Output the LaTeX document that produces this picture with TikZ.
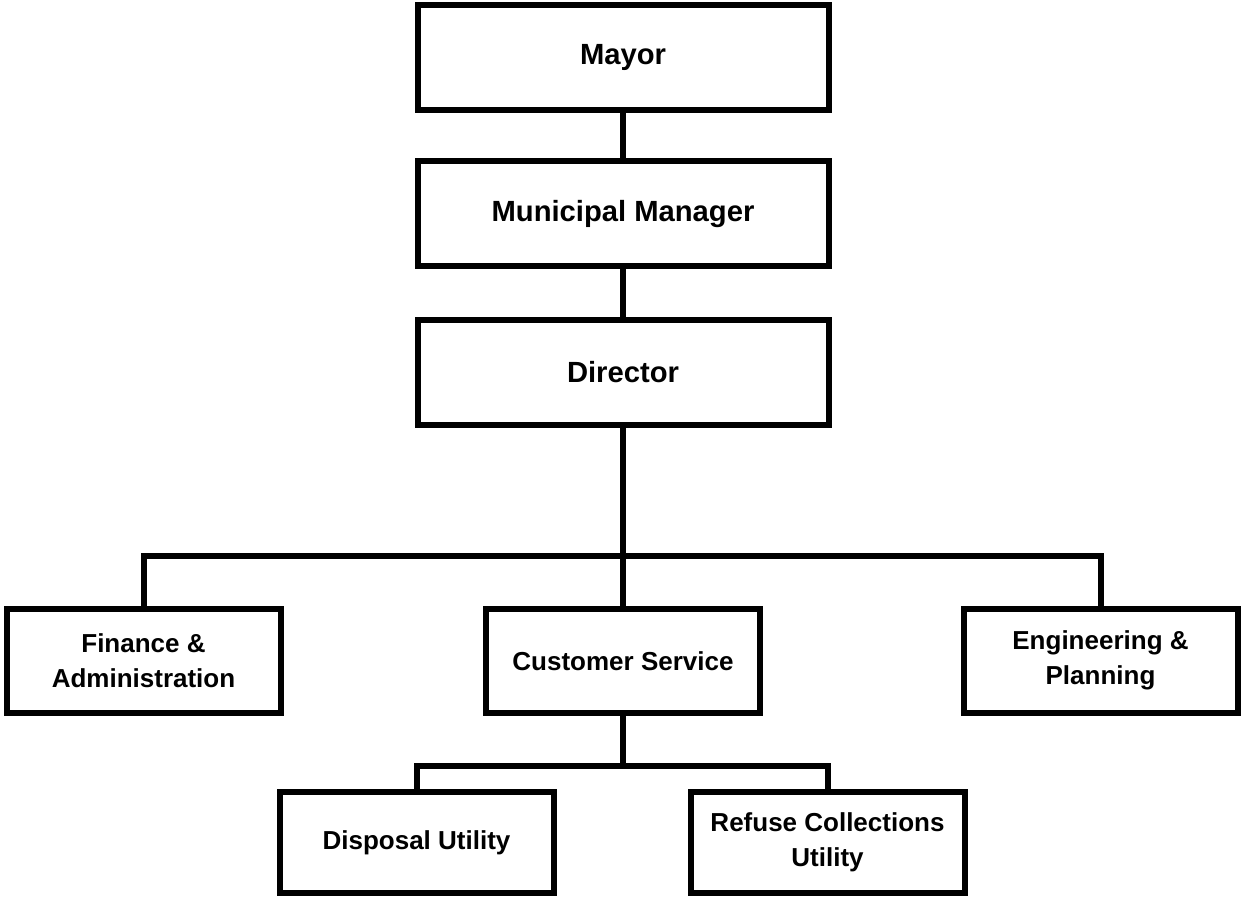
\documentclass[tikz,border=0pt]{standalone}
\usepackage{fontspec}
\setmainfont{Liberation Sans}

\tikzset{
  chartbox/.style={draw, line width=4.5pt, align=center, inner sep=2pt,
    font=\fontsize{19.5pt}{26.5pt}\selectfont\bfseries},
  topbox/.style={chartbox, minimum width=308.25pt, minimum height=78.75pt,
    font=\fontsize{21.9pt}{26.5pt}\selectfont\bfseries},
  unitbox/.style={chartbox, minimum width=205.5pt, minimum height=78pt},
  utilbox/.style={chartbox, minimum width=205.5pt, minimum height=75.75pt},
  link/.style={line width=4.5pt}
}

\begin{document}
\begin{tikzpicture}[x=0.75pt,y=0.75pt,yscale=-1,xscale=1]
\useasboundingbox (0,0) rectangle (1241,898);

\node [topbox] (mayor) at (623,57.25) {Mayor};
\node [topbox] (manager) at (623,214) {Municipal Manager};
\node [topbox] (director) at (623,372.25) {Director};

\node [unitbox] (finance) at (143.5,660.5) {Finance \&\\Administration};
\node [unitbox] (customer) at (623,660.75) {Customer Service};
\node [unitbox] (engineering) at (1100.5,660.5) {Engineering \&\\Planning};

\node [utilbox] (disposal) at (416.5,842.5) {Disposal Utility};
\node [utilbox] (refuse) at (827.5,842.5) {Refuse Collections\\Utility};

\coordinate (bus) at (623,556);
\coordinate (lowbus) at (623,766);

\draw [link] (mayor.south) -- (manager.north);
\draw [link] (manager.south) -- (director.north);
\draw [link] (director.south) -- (customer.north);
\draw [link] (finance.north) |- (bus) -| (engineering.north);
\draw [link] (customer.south) -- (lowbus);
\draw [link] (disposal.north) |- (lowbus) -| (refuse.north);
\end{tikzpicture}
\end{document}
